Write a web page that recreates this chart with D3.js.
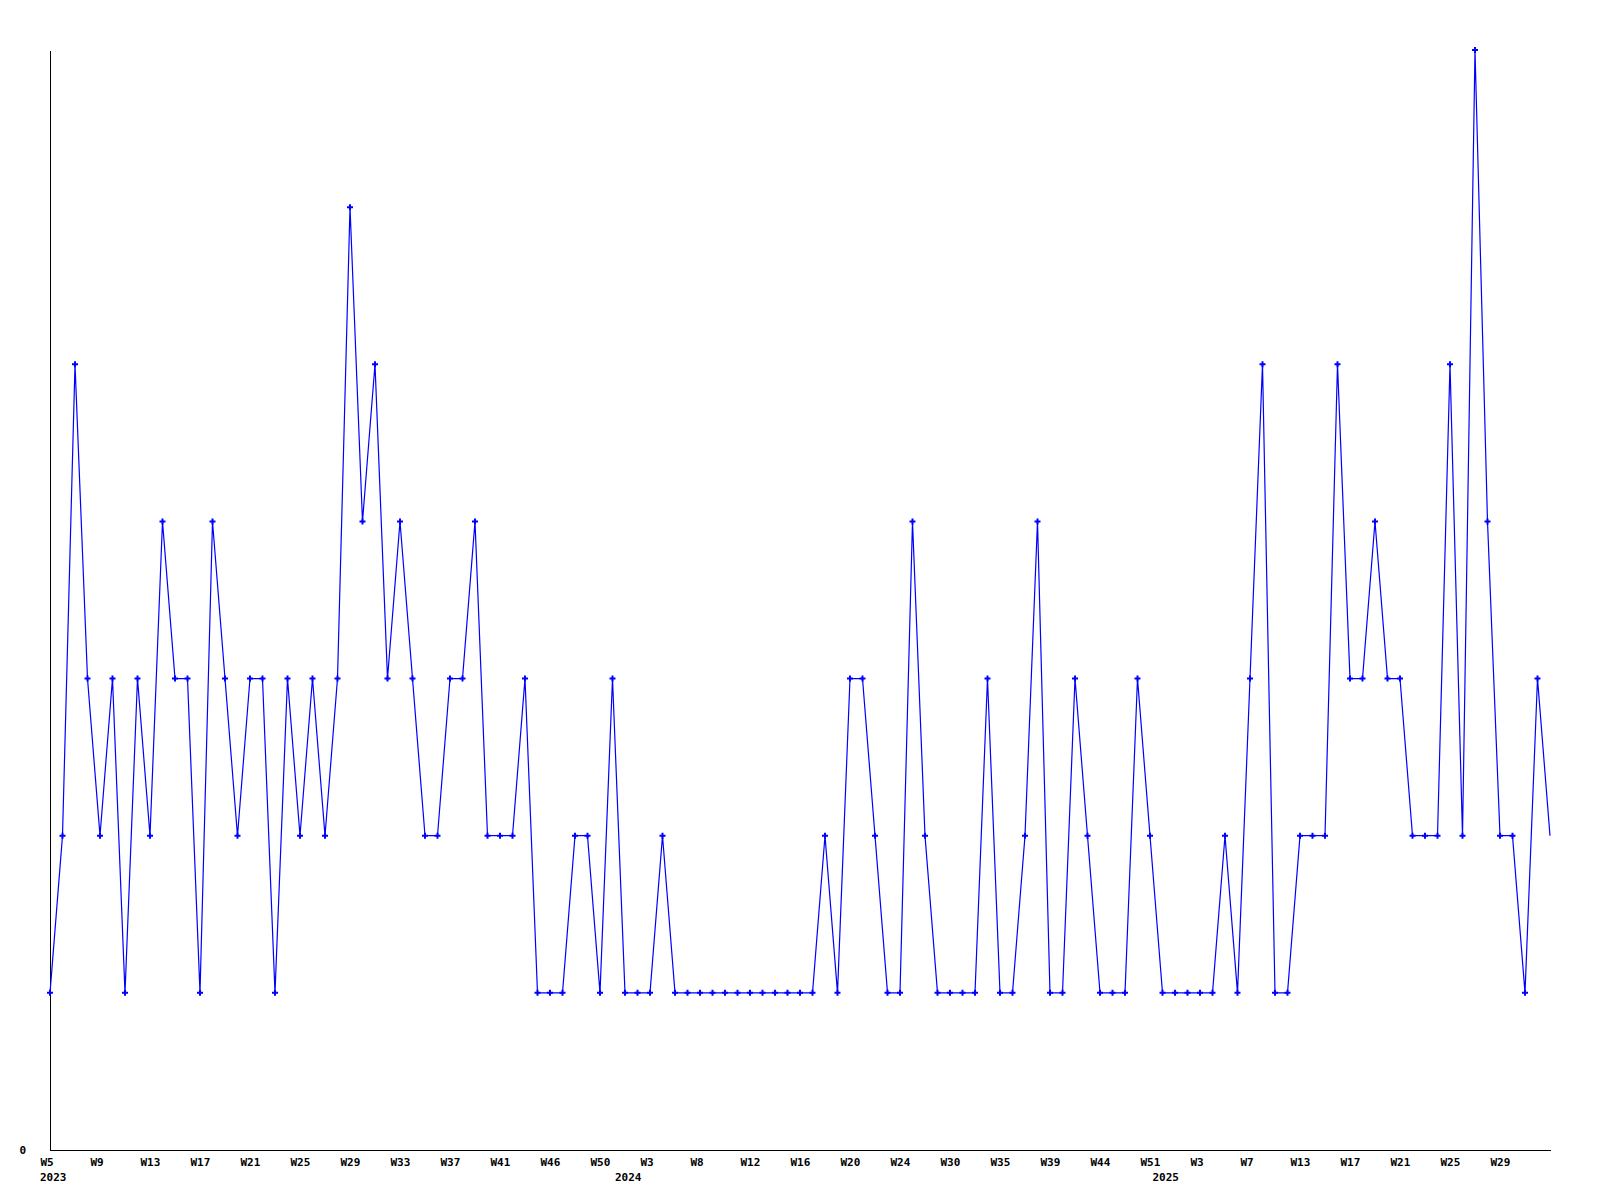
<!DOCTYPE html>
<html>
<head>
<meta charset="utf-8">
<script src="https://cdn.jsdelivr.net/npm/d3@7"></script>
<style>
  html, body { margin: 0; padding: 0; background: #ffffff; }
  svg { display: block; }
  text { font-family: "DejaVu Sans Mono", "Liberation Mono", monospace; font-weight: bold; font-size: 11px; fill: #000; }
</style>
</head>
<body>
<svg id="chart" width="1600" height="1200"></svg>
<script>
// ---- data ----
const weeks2023 = [5,6,7,8,9,10,11,12,13,14,15,16,17,18,19,20,21,22,23,24,25,26,27,28,29,30,31,32,33,34,35,36,37,38,39,40,41,42,43,45,46,47,48,49,50,51];
const weeks2024 = [1,2,3,4,5,6,8,9,10,11,12,13,14,15,16,17,18,19,20,21,22,23,24,25,26,27,30,31,32,33,35,36,37,38,39,40,41,42,44,45,46,47,51,52];
const weeks2025 = [1,2,3,4,5,6,7,8,9,10,13,14,15,16,17,18,19,20,21,22,23,24,25,26,27,28,29,30,31,32,33];
const values = [
  1,2,5,3,2,3,1,3,2,4, 3,3,1,4,3,2,3,3,1,3,
  2,3,2,3,6,4,5,3,4,3, 2,2,3,3,4,2,2,2,3,1,
  1,1,2,2,1,3,1,1,1,2, 1,1,1,1,1,1,1,1,1,1,
  1,1,2,1,3,3,2,1,1,4, 2,1,1,1,1,3,1,1,2,4,
  1,1,3,2,1,1,1,3,2,1, 1,1,1,1,2,1,3,5,1,1,
  2,2,2,5,3,3,4,3,3,2, 2,2,5,2,7,4,2,2,1,3,
  2
];
const yearLabels = [["2023-W5","2023"],["2024-W1","2024"],["2024-W52","2025"]];
const yTickValues = [0];
const tickEvery = 4;

const categories = [].concat(
  weeks2023.map(w => "2023-W" + w),
  weeks2024.map(w => "2024-W" + w),
  weeks2025.map(w => "2025-W" + w)
);
const data = categories.map((c, i) => ({ cat: c, value: values[i] }));

// ---- layout ----
const svg = d3.select("#chart");
const mLeft = 50, mRight = 1550, mTop = 50, mBottom = 1150;

const x = d3.scalePoint().domain(categories).range([mLeft, mRight]);
const y = d3.scaleLinear().domain([0, 7]).range([mBottom, mTop]);

// y axis
const yAxis = svg.append("g")
  .attr("transform", `translate(${mLeft},0)`)
  .call(d3.axisLeft(y).tickValues(yTickValues).tickSize(0).tickSizeOuter(0).tickPadding(24).tickFormat(d3.format("d")));
yAxis.select(".domain").attr("stroke", "#000").attr("stroke-width", 1).attr("shape-rendering", "crispEdges");
yAxis.selectAll("text").attr("dy", "0.3em").style("font-size", "11px").style("font-family", "DejaVu Sans Mono").style("font-weight", "bold");

// x axis (every 4th category, last point unlabeled)
const xTicks = categories.filter((c, i) => i % tickEvery === 0 && i < categories.length - 1);
const xAxis = svg.append("g")
  .attr("transform", `translate(0,${mBottom})`)
  .call(d3.axisBottom(x).tickValues(xTicks).tickSize(0).tickSizeOuter(0).tickFormat(c => c.split("-")[1]));
xAxis.select(".domain").attr("stroke", "#000").attr("stroke-width", 1).attr("shape-rendering", "crispEdges");
xAxis.selectAll(".tick text")
  .attr("text-anchor", "start").attr("x", -10).attr("y", 16).attr("dy", 0)
  .style("font-size", "11px").style("font-family", "DejaVu Sans Mono").style("font-weight", "bold");

// year labels
svg.append("g").selectAll("text").data(yearLabels).join("text")
  .attr("x", d => x(d[0]) - 10)
  .attr("y", mBottom + 31)
  .text(d => d[1]);

// line
const line = d3.line().x(d => x(d.cat)).y(d => y(d.value));
svg.append("path")
  .datum(data)
  .attr("fill", "none")
  .attr("stroke", "#0000ff")
  .attr("stroke-width", 1.2)
  .attr("d", line);

// markers (last point has none in the reference)
const sym = d3.symbol().type(d3.symbolCross).size(20);
svg.append("g").selectAll("path").data(data.slice(0, -1)).join("path")
  .attr("transform", d => `translate(${x(d.cat)},${y(d.value)})`)
  .attr("d", sym)
  .attr("fill", "#0000ff");
</script>
</body>
</html>
